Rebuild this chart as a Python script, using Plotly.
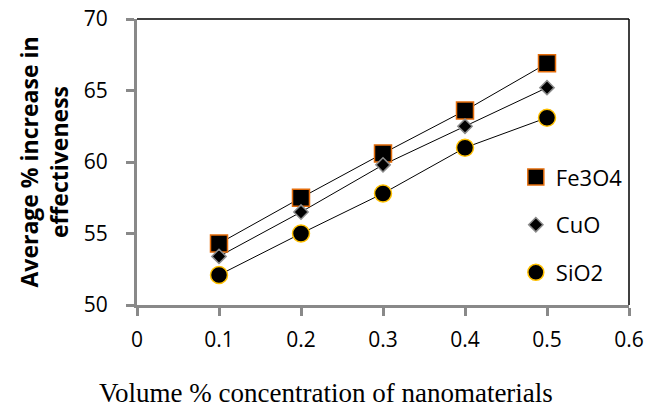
import plotly.graph_objects as go

conc = [0.1, 0.2, 0.3, 0.4, 0.5]
fe3o4 = [54.3, 57.5, 60.6, 63.6, 66.9]
cuo = [53.4, 56.5, 59.8, 62.5, 65.2]
sio2 = [52.1, 55.0, 57.8, 61.0, 63.1]

series = [
    ("Fe3O4", fe3o4, "square", 17, "#E46C0A", 1.5),
    ("CuO", cuo, "diamond", 11, "#8C8C8C", 1.5),
    ("SiO2", sio2, "circle", 17, "#FFC000", 1.5),
]

fig = go.Figure()
for name, vals, sym, size, edge, ew in series:
    fig.add_trace(go.Scatter(x=conc, y=vals, mode="lines", line=dict(color="black", width=1),
                             showlegend=False, hoverinfo="skip"))
for i, (name, vals, sym, size, edge, ew) in enumerate(series):
    fig.add_trace(go.Scatter(x=conc, y=vals, mode="markers", name=name, legendgroup=f"g{i}",
                             marker=dict(symbol=sym, size=size, color="black",
                                         line=dict(color=edge, width=ew))))

axis_grey = "#898989"
fig.update_layout(
    width=661, height=409,
    margin=dict(l=137, r=32, t=19, b=104, autoexpand=False),
    paper_bgcolor="white", plot_bgcolor="white",
    showlegend=True,
    legend=dict(x=0.77, y=0.52, xanchor="left", yanchor="top", tracegroupgap=16,
                font=dict(family="Open Sans", size=22, color="black"), bgcolor="rgba(0,0,0,0)"),
    xaxis=dict(range=[0, 0.6], dtick=0.1, showgrid=False, zeroline=False,
               showline=True, linecolor=axis_grey, linewidth=3,
               ticks="outside", ticklen=8, tickcolor=axis_grey, tickwidth=3,
               ticklabelstandoff=6,
               tickfont=dict(family="Open Sans", size=21, color="black")),
    yaxis=dict(range=[50, 70], dtick=5, showgrid=False, zeroline=False,
               showline=True, linecolor=axis_grey, linewidth=3,
               ticks="outside", ticklen=8, tickcolor=axis_grey, tickwidth=3,
               ticklabelstandoff=14,
               tickfont=dict(family="Open Sans", size=21, color="black"),
               title=dict(text="<b>Average % increase in<br>effectiveness</b>", standoff=9,
                          font=dict(family="Open Sans", size=23, color="black"))),
    annotations=[
        dict(text="Volume % concentration of nanomaterials", xref="paper", yref="paper",
             x=0.384, y=-0.308, xanchor="center", yanchor="middle", showarrow=False,
             font=dict(family="Liberation Serif", size=27, color="black")),
    ],
    shapes=[
        dict(type="line", xref="paper", yref="paper", x0=0, x1=1, y0=1, y1=1,
             line=dict(color="black", width=1.5)),
        dict(type="line", xref="paper", yref="paper", x0=1, x1=1, y0=0, y1=1,
             line=dict(color="black", width=1.5)),
    ],
)

fig.write_html("out.html")
